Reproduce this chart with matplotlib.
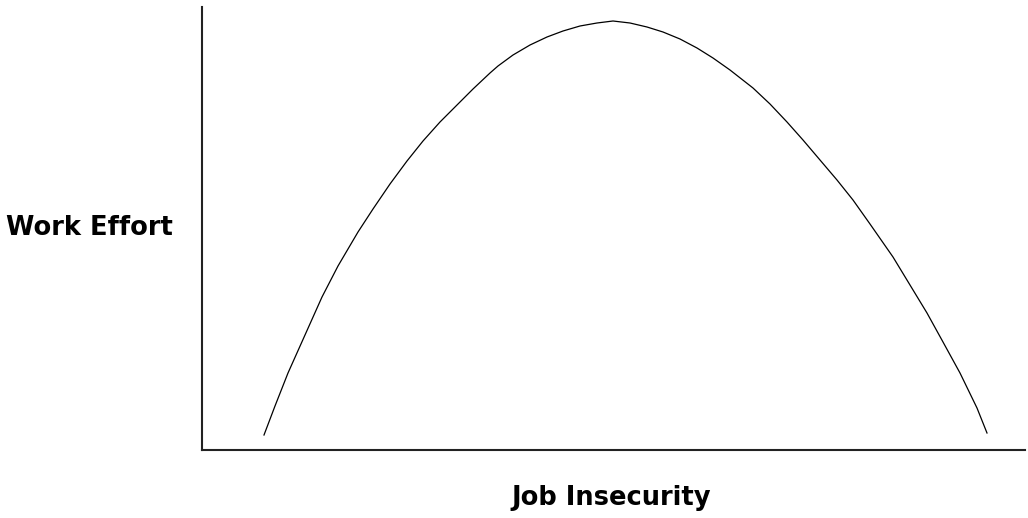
import matplotlib
matplotlib.use("Agg")
import matplotlib.pyplot as plt

# points (x: job insecurity, y: work effort), arbitrary units
insecurity = [62, 73, 86, 103, 120, 136, 156, 171, 188, 205, 221, 238, 255,
              271, 288, 296, 311, 328, 345, 361, 378, 395, 411, 428, 445, 461,
              478, 495, 511, 528, 551, 568, 585, 601, 618, 635, 651, 668,
              691, 708, 725, 741, 758, 775, 785]
effort = [15, 44, 77, 115, 153, 184, 218, 241, 266, 289, 309, 328, 345,
          361, 377, 384, 395, 405, 413, 419, 424, 427, 429, 427, 423, 418,
          411, 402, 392, 380, 362, 346, 328, 310, 290, 270, 250, 226,
          193, 165, 137, 108, 77, 42, 17]

fig = plt.figure(figsize=(10.28, 5.18), dpi=100)
ax = fig.add_axes([202 / 1028, 68 / 518, 823 / 1028, 443 / 518])
ax.plot(insecurity, effort, color="black", linewidth=0.9)
ax.set_xlim(0, 823)
ax.set_ylim(0, 443)
ax.set_xticks([])
ax.set_yticks([])
ax.spines[["top", "right"]].set_visible(False)
for s in ("left", "bottom"):
    ax.spines[s].set_linewidth(1.5)
    ax.spines[s].set_color("#222222")

font = dict(family="DejaVu Sans", fontweight="bold", fontsize=18.5)
fig.text(89 / 1028, 1 - 228 / 518, "Work Effort", ha="center", va="center", **font)
fig.text(611 / 1028, 1 - 498 / 518, "Job Insecurity", ha="center", va="center", **font)

fig.savefig("out.png", dpi=100)
